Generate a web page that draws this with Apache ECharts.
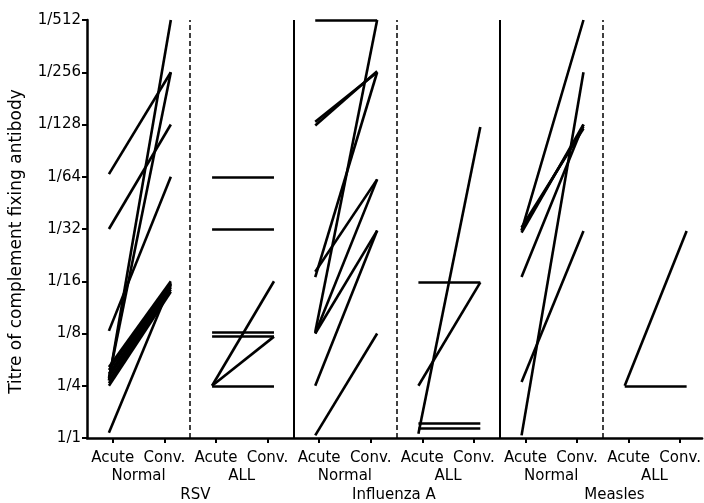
<!DOCTYPE html>
<html>
<head>
<meta charset="utf-8">
<script src="https://cdn.jsdelivr.net/npm/echarts@6.0.0/dist/echarts.min.js"></script>
<style>
html, body { margin: 0; padding: 0; background: #fff; }
#chart { width: 704px; height: 503px; }
</style>
</head>
<body>
<div id="chart"></div>
<script>
// y steps: 0 = 1/1, 1 = 1/4, 2 = 1/8 ... 8 = 1/512
const titreLabels = ['1/1', '1/4', '1/8', '1/16', '1/32', '1/64', '1/128', '1/256', '1/512'];
const phaseLabels = ['Acute', 'Conv.'];
const groupLabels = ['Normal', 'ALL', 'Normal', 'ALL', 'Normal', 'ALL'];
const virusLabels = ['RSV', 'Influenza A', 'Measles'];
const virusLabelAt = [4.2, 11.9, 20.45];

// [acute, convalescent] titre steps, one pair per patient
const rsvNormal = [
  [5.05, 7.0], [4.0, 6.0], [2.05, 5.0], [1.1, 8.0], [1.15, 7.0], [0.1, 2.95],
  [1.0, 2.8], [1.05, 2.84], [1.1, 2.88], [1.17, 2.91], [1.23, 2.94], [1.3, 2.97], [1.36, 3.0]
];
const rsvAll = [
  [5.0, 5.0], [4.0, 4.0], [2.02, 2.02], [1.94, 1.94], [1.0, 1.94], [1.0, 1.0], [1.0, 3.0]
];
const fluNormal = [
  [8.0, 8.0], [6.05, 7.0], [5.98, 7.02], [2.03, 8.0], [3.08, 7.0],
  [3.18, 4.95], [2.0, 4.95], [2.0, 3.97], [1.0, 3.97], [0.05, 2.0]
];
const fluAll = [
  [0.08, 5.95], [2.98, 2.98], [1.0, 2.98], [0.28, 0.28], [0.19, 0.19]
];
const measlesNormal = [
  [3.97, 8.0], [3.93, 6.0], [3.98, 5.96], [4.03, 5.92], [3.08, 6.0], [0.05, 7.0], [1.07, 3.96]
];
const measlesAll = [
  [1.0, 1.0], [1.0, 3.96]
];

const panels = [rsvNormal, rsvAll, fluNormal, fluAll, measlesNormal, measlesAll];
const dashedDividers = [4, 12, 20];
const solidDividers = [8, 16];

const panelWidth = 4;
const lineStart = 0.85;
const lineEnd = 3.25;
const xMax = 23.85;

const tickValues = panels.flatMap((_, i) => [i * panelWidth + 1, i * panelWidth + 3]);
const groupAt = panels.map((_, i) => i * panelWidth + 2);

const chart = echarts.init(document.getElementById('chart'));

const pairSeries = panels.map((pairs, i) => ({
  type: 'lines',
  coordinateSystem: 'cartesian2d',
  silent: true,
  lineStyle: { color: '#000', width: 2.6, opacity: 1, curveness: 0 },
  data: pairs.map(([a, c]) => ({
    coords: [[i * panelWidth + lineStart, a], [i * panelWidth + lineEnd, c]]
  }))
}));

const dividerSeries = [
  {
    type: 'lines',
    coordinateSystem: 'cartesian2d',
    silent: true,
    lineStyle: { color: '#000', width: 1.5, opacity: 1, type: [5, 3] },
    data: dashedDividers.map(x => ({ coords: [[x, 0], [x, 8]] }))
  },
  {
    type: 'lines',
    coordinateSystem: 'cartesian2d',
    silent: true,
    lineStyle: { color: '#000', width: 2, opacity: 1 },
    data: solidDividers.map(x => ({ coords: [[x, 0], [x, 8]] }))
  }
];

const baseX = {
  type: 'value',
  min: 0,
  max: xMax,
  position: 'bottom',
  splitLine: { show: false }
};

const option = {
  animation: false,
  textStyle: { fontFamily: 'DejaVu Sans', color: '#000' },
  grid: { left: 87, right: 0, top: 20, bottom: 65 },
  xAxis: [
    Object.assign({}, baseX, {
      axisLine: { lineStyle: { color: '#000', width: 2.5 } },
      axisTick: { customValues: tickValues, length: 5, lineStyle: { color: '#000', width: 2 } },
      axisLabel: {
        customValues: tickValues,
        margin: 13,
        fontSize: 15,
        color: '#000',
        formatter: v => phaseLabels[(v % panelWidth) === 1 ? 0 : 1]
      }
    }),
    Object.assign({}, baseX, {
      offset: 18,
      axisLine: { show: false },
      axisTick: { show: false },
      axisLabel: {
        customValues: groupAt,
        margin: 13,
        fontSize: 15,
        color: '#000',
        formatter: v => groupLabels[Math.round((v - 2) / panelWidth)]
      }
    }),
    Object.assign({}, baseX, {
      offset: 37,
      axisLine: { show: false },
      axisTick: { show: false },
      axisLabel: {
        customValues: virusLabelAt,
        margin: 13,
        fontSize: 15,
        color: '#000',
        formatter: v => virusLabels[virusLabelAt.indexOf(v)]
      }
    })
  ],
  yAxis: {
    type: 'value',
    min: 0,
    max: 8,
    interval: 1,
    name: 'Titre of complement fixing antibody',
    nameLocation: 'middle',
    nameGap: 62,
    nameTextStyle: { fontSize: 17, color: '#000', padding: [0, 25, 0, 0] },
    axisLine: { show: true, lineStyle: { color: '#000', width: 2.5 } },
    axisTick: { show: true, length: 5, lineStyle: { color: '#000', width: 2 } },
    splitLine: { show: false },
    axisLabel: {
      margin: 6,
      fontSize: 15,
      color: '#000',
      formatter: v => titreLabels[v]
    }
  },
  series: dividerSeries.concat(pairSeries)
};

chart.setOption(option);
</script>
</body>
</html>
